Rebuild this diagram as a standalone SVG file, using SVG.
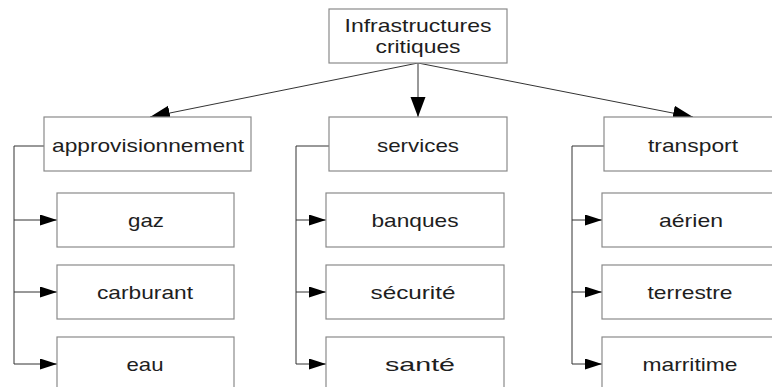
<svg xmlns="http://www.w3.org/2000/svg" width="772" height="387" viewBox="0 0 772 387">
<defs>
<style>
.box{fill:#fff;stroke:#8a8a8a;stroke-width:1.2}
.lbl{font-family:"Liberation Sans",Arial,sans-serif;font-size:19px;fill:#1e1e1e;text-anchor:middle}
.ln{fill:none;stroke:#333;stroke-width:1}
</style>
<marker id="ah" markerUnits="userSpaceOnUse" markerWidth="22" markerHeight="16" refX="20" refY="7.5" orient="auto">
<path d="M0,0 L20,7.5 L0,15 Z" fill="#000"/>
</marker>
<marker id="ahs" markerUnits="userSpaceOnUse" markerWidth="18" markerHeight="12" refX="17" refY="5.5" orient="auto">
<path d="M0,0 L17,5.5 L0,11 Z" fill="#000"/>
</marker>
</defs>
<rect width="772" height="387" fill="#fff"/>
<g id="connectors">
<line class="ln" x1="418" y1="63" x2="150" y2="117" marker-end="url(#ah)"/>
<line class="ln" x1="418" y1="63" x2="418" y2="117" marker-end="url(#ah)"/>
<line class="ln" x1="418" y1="63" x2="693" y2="117" marker-end="url(#ah)"/>
<polyline class="ln" points="44,146 14,146 14,364"/>
<line class="ln" x1="14" y1="220" x2="57" y2="220" marker-end="url(#ahs)"/>
<line class="ln" x1="14" y1="292" x2="57" y2="292" marker-end="url(#ahs)"/>
<line class="ln" x1="14" y1="364" x2="57" y2="364" marker-end="url(#ahs)"/>
<polyline class="ln" points="329,146 296,146 296,364"/>
<line class="ln" x1="296" y1="220" x2="326" y2="220" marker-end="url(#ahs)"/>
<line class="ln" x1="296" y1="292" x2="326" y2="292" marker-end="url(#ahs)"/>
<line class="ln" x1="296" y1="364" x2="326" y2="364" marker-end="url(#ahs)"/>
<polyline class="ln" points="604,146 572,146 572,364"/>
<line class="ln" x1="572" y1="220" x2="602" y2="220" marker-end="url(#ahs)"/>
<line class="ln" x1="572" y1="292" x2="602" y2="292" marker-end="url(#ahs)"/>
<line class="ln" x1="572" y1="364" x2="602" y2="364" marker-end="url(#ahs)"/>
</g>
<g id="root">
<rect class="box" x="329" y="9" width="178" height="54"/>
<text class="lbl" x="418" y="32" textLength="147" lengthAdjust="spacingAndGlyphs">Infrastructures</text>
<text class="lbl" x="418" y="53" textLength="85" lengthAdjust="spacingAndGlyphs">critiques</text>
</g>
<g id="approvisionnement">
<rect class="box" x="44" y="117" width="207" height="54"/>
<text class="lbl" x="148" y="152" textLength="192" lengthAdjust="spacingAndGlyphs">approvisionnement</text>
</g>
<g id="gaz">
<rect class="box" x="57" y="193" width="177" height="54"/>
<text class="lbl" x="146" y="227" textLength="36" lengthAdjust="spacingAndGlyphs">gaz</text>
</g>
<g id="carburant">
<rect class="box" x="57" y="265" width="177" height="54"/>
<text class="lbl" x="145" y="299" textLength="96" lengthAdjust="spacingAndGlyphs">carburant</text>
</g>
<g id="eau">
<rect class="box" x="57" y="337" width="177" height="60"/>
<text class="lbl" x="145" y="371" textLength="37" lengthAdjust="spacingAndGlyphs">eau</text>
</g>
<g id="services">
<rect class="box" x="329" y="117" width="178" height="54"/>
<text class="lbl" x="418" y="152" textLength="82" lengthAdjust="spacingAndGlyphs">services</text>
</g>
<g id="banques">
<rect class="box" x="326" y="193" width="178" height="54"/>
<text class="lbl" x="415" y="227" textLength="87" lengthAdjust="spacingAndGlyphs">banques</text>
</g>
<g id="securite">
<rect class="box" x="326" y="265" width="178" height="54"/>
<text class="lbl" x="413" y="299" textLength="85" lengthAdjust="spacingAndGlyphs">sécurité</text>
</g>
<g id="sante">
<rect class="box" x="326" y="337" width="178" height="60"/>
<text class="lbl" x="420" y="371" textLength="70" lengthAdjust="spacingAndGlyphs">santé</text>
</g>
<g id="transport">
<rect class="box" x="604" y="117" width="190" height="54"/>
<text class="lbl" x="693" y="152" textLength="90" lengthAdjust="spacingAndGlyphs">transport</text>
</g>
<g id="aerien">
<rect class="box" x="602" y="193" width="190" height="54"/>
<text class="lbl" x="691" y="227" textLength="64" lengthAdjust="spacingAndGlyphs">aérien</text>
</g>
<g id="terrestre">
<rect class="box" x="602" y="265" width="190" height="54"/>
<text class="lbl" x="690" y="299" textLength="85" lengthAdjust="spacingAndGlyphs">terrestre</text>
</g>
<g id="marritime">
<rect class="box" x="602" y="337" width="190" height="60"/>
<text class="lbl" x="690" y="371" textLength="95" lengthAdjust="spacingAndGlyphs">marritime</text>
</g>
</svg>
